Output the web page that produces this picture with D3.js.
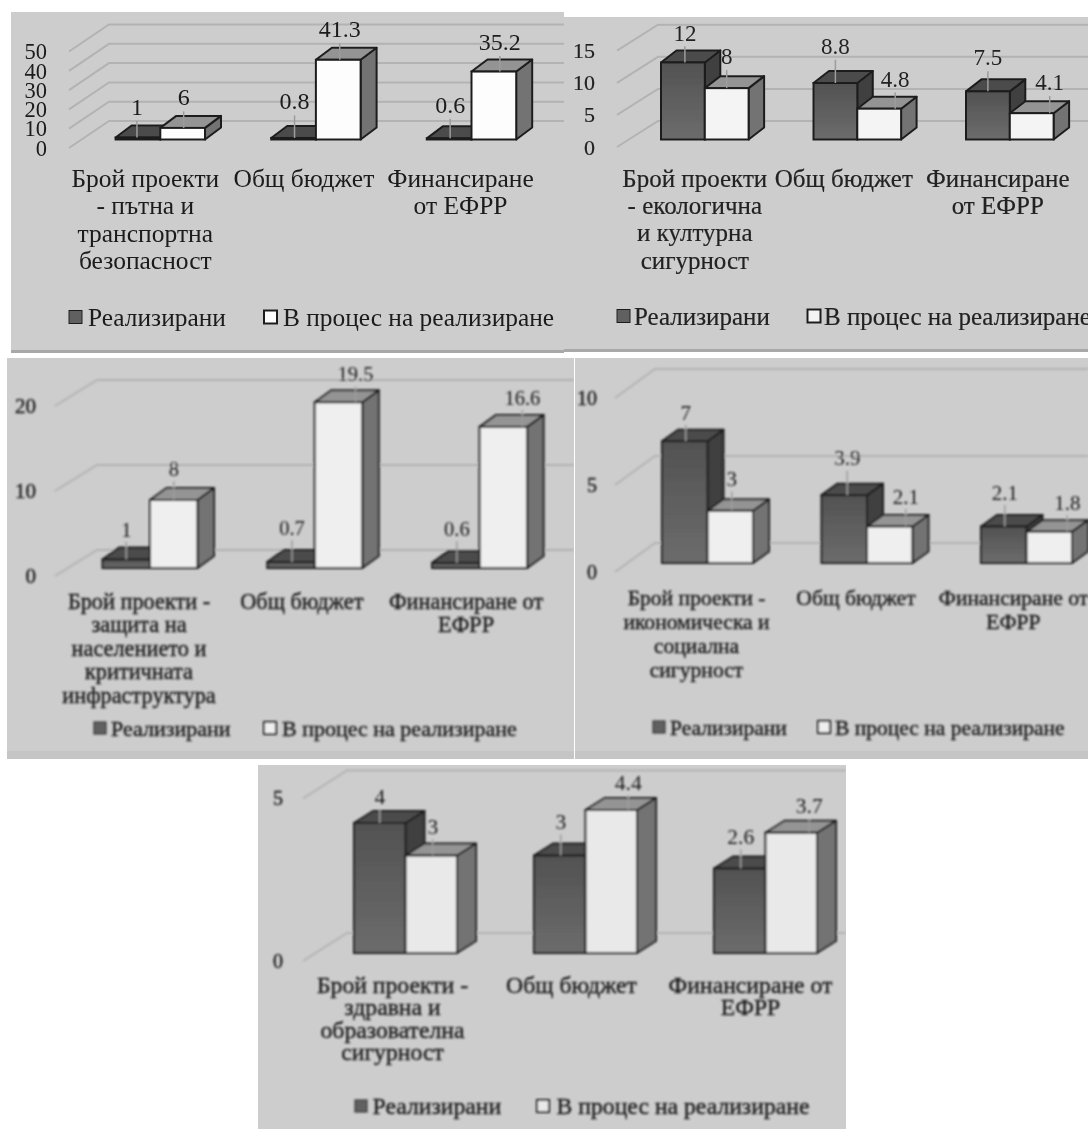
<!DOCTYPE html>
<html>
<head>
<meta charset="utf-8">
<script src="https://cdn.jsdelivr.net/npm/d3@7"></script>
<style>
body { margin: 0; background: #fff; }
svg { display: block; }
text { font-family: "Liberation Serif", serif; fill: #1c1c1c; }
</style>
</head>
<body>
<div id="container"></div>
<script>
var seriesNames = ["Реализирани", "В процес на реализиране"];

// values, one pair of arrays per chart
var roadDone = [1, 0.8, 0.6];
var roadWip = [6, 41.3, 35.2];
var ecoDone = [12, 8.8, 7.5];
var ecoWip = [8, 4.8, 4.1];
var civilDone = [1, 0.7, 0.6];
var civilWip = [8, 19.5, 16.6];
var econDone = [7, 3.9, 2.1];
var econWip = [3, 2.1, 1.8];
var healthDone = [4, 3, 2.6];
var healthWip = [3, 4.4, 3.7];

var roadTicks = [0, 10, 20, 30, 40, 50];
var ecoTicks = [0, 5, 10, 15];
var civilTicks = [0, 10, 20];
var econTicks = [0, 5, 10];
var healthTicks = [0, 5];

// category labels, already broken in lines
var roadCats = [["Брой проекти", "- пътна и", "транспортна", "безопасност"], ["Общ бюджет"], ["Финансиране", "от ЕФРР"]];
var ecoCats = [["Брой проекти", "- екологична", "и културна", "сигурност"], ["Общ бюджет"], ["Финансиране", "от ЕФРР"]];
var civilCats = [["Брой проекти -", "защита на", "населението и", "критичната", "инфраструктура"], ["Общ бюджет"], ["Финансиране от", "ЕФРР"]];
var econCats = [["Брой проекти -", "икономическа и", "социална", "сигурност"], ["Общ бюджет"], ["Финансиране от", "ЕФРР"]];
var healthCats = [["Брой проекти -", "здравна и", "образователна", "сигурност"], ["Общ бюджет"], ["Финансиране от", "ЕФРР"]];

// where each chart sits on the page
var panels = [
    {done: roadDone, wip: roadWip, ticks: roadTicks, cats: roadCats,
     box: [11, 12, 564, 353], foot: 3, blur: 0.45, ink: "#1a1a1a", light: "#fdfdfd", weight: 0,
     base: 139.5, plotH: 96.5, floor: 8.5, back: 18.5, wallDx: 40, floorX: 69, axisX: 47,
     x0: 115.6, step: 155.6, barW: 44.7, dx: 16, dy: 12,
     labelDx: [[-1, 1, 1], [1, 1.5, 6]], labelRise: [[31, 37, 34], [31, 31, 30]],
     catDx: [-15, -12, -11], catY: 178, catLine: 27.5, catSize: 25.5, valSize: 24, tickSize: 22.5,
     legend: [69, 88, 264, 283], legendY: 317, legendSize: 25.4, swatch: 13},
    {done: ecoDone, wip: ecoWip, ticks: ecoTicks, cats: ecoCats,
     box: [564, 17, 1088, 352], foot: 3, blur: 0.7, ink: "#222", light: "#f4f4f4", weight: 0.2,
     base: 139.5, plotH: 96.3, floor: 7.5, back: 18.5, wallDx: 41, floorX: 617, axisX: 595,
     x0: 661, step: 152.5, barW: 43.8, dx: 15.5, dy: 12,
     labelDx: [[2, 0, 0], [0, 16, 18]], labelRise: [[30, 37, 34], [32, 30, 31]],
     catDx: [-10, -13.5, -12], catY: 178, catLine: 27.3, catSize: 25, valSize: 23, tickSize: 22,
     legend: [617, 634, 807.5, 824], legendY: 316, legendSize: 25, swatch: 13},
    {done: civilDone, wip: civilWip, ticks: civilTicks, cats: civilCats,
     box: [7, 358, 574, 759], foot: 8, blur: 1, ink: "#1c1c1c", light: "#efefef", weight: 0.4,
     base: 568, plotH: 170, floor: 8, back: 18, wallDx: 42, floorX: 55, axisX: 36,
     x0: 102.5, step: 164.8, barW: 47.5, dx: 16.5, dy: 12,
     labelDx: [[0, 1, 1], [0, 17, 19]], labelRise: [[30, 34, 34], [31, 28, 29]],
     catDx: [-11, -13, -13.5], catY: 600.7, catLine: 23.6, catSize: 22.3, valSize: 20.5, tickSize: 21,
     legend: [94, 111, 264, 282], legendY: 728, legendSize: 22, swatch: 12},
    {done: econDone, wip: econWip, ticks: econTicks, cats: econCats,
     box: [575, 358, 1088, 759], foot: 8, blur: 1, ink: "#1c1c1c", light: "#efefef", weight: 0.4,
     base: 563, plotH: 174, floor: 9, back: 20, wallDx: 40, floorX: 615, axisX: 597,
     x0: 662, step: 159.5, barW: 45.5, dx: 16, dy: 11.5,
     labelDx: [[1, 3, 1], [1.5, 16, 18]], labelRise: [[29, 37, 34], [32, 30, 29]],
     catDx: [-11, -11, -13], catY: 597, catLine: 24, catSize: 21.6, valSize: 21, tickSize: 20,
     legend: [653, 670, 818, 835], legendY: 727, legendSize: 21.5, swatch: 12},
    {done: healthDone, wip: healthWip, ticks: healthTicks, cats: healthCats,
     box: [258, 765, 846, 1129], foot: 0, blur: 1, ink: "#1c1c1c", light: "#e9e9e9", weight: 0.4,
     base: 953, plotH: 162.5, floor: 8, back: 20, wallDx: 44, floorX: 303, axisX: 283,
     x0: 354, step: 180, barW: 51.5, dx: 19, dy: 12,
     labelDx: [[0, 1, 1], [1.5, 17, 18]], labelRise: [[27, 34, 32], [29, 28, 27]],
     catDx: [-13, -14, -15], catY: 985, catLine: 22.2, catSize: 23.7, valSize: 21.5, tickSize: 20,
     legend: [355, 372.6, 537, 556.6], legendY: 1106, legendSize: 23.7, swatch: 12}
];

var svg = d3.select("#container").append("svg")
    .attr("width", 1088)
    .attr("height", 1129);
var defs = svg.append("defs");

// gradient on the dark bars, the original has one too
var grad = defs.append("linearGradient")
    .attr("id", "darkFront")
    .attr("x1", 0).attr("y1", 0).attr("x2", 0).attr("y2", 1);
grad.append("stop").attr("offset", "0%").attr("stop-color", "#525252");
grad.append("stop").attr("offset", "100%").attr("stop-color", "#6c6c6c");

// face colours for [dark series, light series]
var topFill = ["#4c4c4c", "#949494"];
var sideFill = ["#414141", "#737373"];

function draw_panel(p, idx) {
    var fid = "soft" + idx;
    defs.append("filter").attr("id", fid)
        .attr("x", "-2%").attr("y", "-2%").attr("width", "104%").attr("height", "104%")
        .append("feGaussianBlur").attr("stdDeviation", p.blur);
    defs.append("clipPath").attr("id", "clip" + idx)
        .append("rect")
        .attr("x", p.box[0]).attr("y", p.box[1])
        .attr("width", p.box[2] - p.box[0]).attr("height", p.box[3] - p.box[1]);

    var outer = svg.append("g").attr("clip-path", "url(#clip" + idx + ")");
    outer.append("rect")
        .attr("x", p.box[0]).attr("y", p.box[1])
        .attr("width", p.box[2] - p.box[0]).attr("height", p.box[3] - p.box[1])
        .attr("fill", "#cdcdcd");
    if (p.foot) {
        outer.append("rect")
            .attr("x", p.box[0]).attr("y", p.box[3] - p.foot)
            .attr("width", p.box[2] - p.box[0]).attr("height", p.foot)
            .attr("fill", p.foot > 3 ? "#c5c5c5" : "#a8a8a8");
    }
    var g = outer.append("g").attr("filter", "url(#" + fid + ")");

    var y = d3.scaleLinear()
        .domain([0, p.ticks[p.ticks.length - 1]])
        .range([p.base, p.base - p.plotH]);

    var gap = p.step - 2 * p.barW;
    var x = d3.scaleBand()
        .domain(d3.range(p.cats.length))
        .range([p.x0 - gap / 2, p.x0 - gap / 2 + p.step * p.cats.length])
        .paddingInner(gap / p.step)
        .paddingOuter(gap / p.step / 2);
    var xInner = d3.scaleBand()
        .domain([0, 1])
        .range([0, x.bandwidth()]);

    // grid: one slanted piece on the floor side, then along the back wall
    g.selectAll(".grid")
        .data(p.ticks)
        .enter()
        .append("path")
        .attr("fill", "none")
        .attr("stroke", "#b3b3b3")
        .attr("stroke-width", 2)
        .attr("d", function (d) {
            return "M" + p.floorX + "," + (y(d) + p.floor) +
                "L" + (p.floorX + p.wallDx) + "," + (y(d) - p.back) +
                "L" + p.box[2] + "," + (y(d) - p.back);
        });

    // tick labels through a normal axis, moved down to the front of the floor
    var axis = g.append("g")
        .attr("transform", "translate(" + p.axisX + "," + p.floor + ")")
        .call(d3.axisLeft(y).tickValues(p.ticks).tickFormat(d3.format("d")).tickSize(0).tickPadding(0));
    axis.select(".domain").remove();
    axis.selectAll("text")
        .style("font-family", '"Liberation Serif", serif')
        .style("font-size", p.tickSize + "px")
        .style("fill", p.ink)
        .style("stroke", p.ink)
        .style("stroke-width", p.weight);

    var rows = [p.done, p.wip];
    var frontFill = ["url(#darkFront)", p.light];
    rows.forEach(function (vals, s) {
        var bars = g.selectAll(".bar" + s)
            .data(vals)
            .enter()
            .append("g");

        bars.append("path")
            .attr("fill", sideFill[s])
            .attr("stroke", "#1f1f1f")
            .attr("stroke-width", 2)
            .attr("stroke-linejoin", "round")
            .attr("d", function (d, i) {
                var r = x(i) + xInner(s) + xInner.bandwidth();
                return "M" + r + "," + y(d) + "L" + (r + p.dx) + "," + (y(d) - p.dy) +
                    "L" + (r + p.dx) + "," + (y(0) - p.dy) + "L" + r + "," + y(0) + "Z";
            });
        bars.append("path")
            .attr("fill", topFill[s])
            .attr("stroke", "#1f1f1f")
            .attr("stroke-width", 2)
            .attr("stroke-linejoin", "round")
            .attr("d", function (d, i) {
                var l = x(i) + xInner(s), r = l + xInner.bandwidth();
                return "M" + l + "," + y(d) + "L" + (l + p.dx) + "," + (y(d) - p.dy) +
                    "L" + (r + p.dx) + "," + (y(d) - p.dy) + "L" + r + "," + y(d) + "Z";
            });
        bars.append("rect")
            .attr("x", function (d, i) { return x(i) + xInner(s); })
            .attr("y", function (d) { return y(d); })
            .attr("width", xInner.bandwidth())
            .attr("height", function (d) { return y(0) - y(d); })
            .attr("fill", frontFill[s])
            .attr("stroke", "#1f1f1f")
            .attr("stroke-width", 2);

        // leader line and value
        bars.append("line")
            .attr("stroke", "#9c9c9c")
            .attr("stroke-width", 1.5)
            .attr("x1", function (d, i) { return x(i) + xInner(s) + xInner.bandwidth() / 2 + p.labelDx[s][i]; })
            .attr("x2", function (d, i) { return x(i) + xInner(s) + xInner.bandwidth() / 2 + p.labelDx[s][i]; })
            .attr("y1", function (d, i) { return y(d) - p.labelRise[s][i] + p.valSize * 0.6; })
            .attr("y2", function (d) { return y(d); });
    });

    // values go on top of every bar, hence a second pass
    rows.forEach(function (vals, s) {
        g.selectAll(".val" + s)
            .data(vals)
            .enter()
            .append("text")
            .attr("x", function (d, i) { return x(i) + xInner(s) + xInner.bandwidth() / 2 + p.labelDx[s][i]; })
            .attr("y", function (d, i) { return y(d) - p.labelRise[s][i]; })
            .attr("dy", "0.35em")
            .attr("text-anchor", "middle")
            .attr("font-size", p.valSize)
            .style("fill", p.ink)
            .text(function (d) { return d; });
    });

    // category labels
    p.cats.forEach(function (lines, i) {
        g.append("text")
            .attr("text-anchor", "middle")
            .attr("font-size", p.catSize)
            .style("fill", p.ink)
            .style("stroke", p.ink)
            .style("stroke-width", p.weight)
            .selectAll("tspan")
            .data(lines)
            .enter()
            .append("tspan")
            .attr("x", x(i) + x.bandwidth() / 2 + p.catDx[i])
            .attr("y", function (d, j) { return p.catY + j * p.catLine; })
            .attr("dy", "0.35em")
            .text(function (d) { return d; });
    });

    // legend
    seriesNames.forEach(function (name, s) {
        g.append("rect")
            .attr("x", p.legend[s * 2])
            .attr("y", p.legendY - p.swatch / 2)
            .attr("width", p.swatch)
            .attr("height", p.swatch)
            .attr("fill", s == 0 ? "#606060" : p.light)
            .attr("stroke", "#1f1f1f")
            .attr("stroke-width", s == 0 ? 1 : 2);
        g.append("text")
            .attr("x", p.legend[s * 2 + 1])
            .attr("y", p.legendY)
            .attr("dy", "0.35em")
            .attr("font-size", p.legendSize)
            .style("fill", p.ink)
            .style("stroke", p.ink)
            .style("stroke-width", p.weight)
            .text(name);
    });
}

panels.forEach(draw_panel);
</script>
</body>
</html>
